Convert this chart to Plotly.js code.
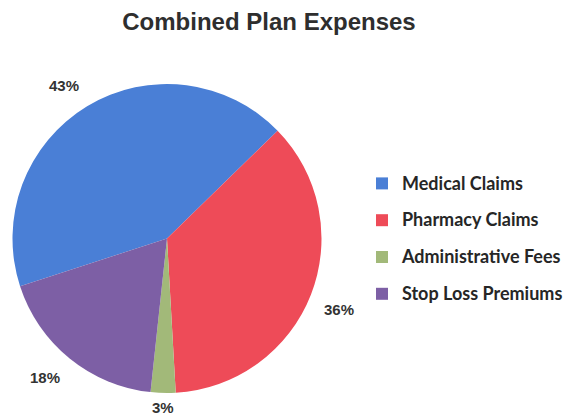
<!DOCTYPE html>
<html>
<head>
<meta charset="utf-8">
<script src="https://cdn.plot.ly/plotly-3.0.1.min.js"></script>
<style>html,body{margin:0;padding:0;background:#fff;}#chart{width:568px;height:417px;}</style>
</head>
<body>
<div id="chart"></div>
<script>
// Data
const labels = ['Medical Claims', 'Pharmacy Claims', 'Administrative Fees', 'Stop Loss Premiums'];
const values = [42.7, 36.4, 2.6, 18.3];
const titleText = 'Combined Plan Expenses';

// Styles
const colors = ['#4a7fd6', '#ee4b58', '#a2b979', '#7d5fa5'];
const W = 568, H = 417;
const rotation = 252;
const pieCx = 167, pieCy = 238.5, pieR = 154.5;
const labelDist = 166;
const labelBoxH = 19;

const total = values.reduce((a, b) => a + b, 0);
let cum = 0;
const annotations = values.map((v) => {
  const mid = (rotation + (cum + v / 2) / total * 360) * Math.PI / 180;
  cum += v;
  const s = Math.sin(mid), c = Math.cos(mid);
  let px = pieCx + s * labelDist;
  let py = pieCy - c * labelDist;
  const xanchor = Math.abs(s) < 0.2 ? 'center' : (s > 0 ? 'left' : 'right');
  const yanchor = Math.abs(c) < 0.2 ? 'middle' : (c > 0 ? 'bottom' : 'top');
  if (yanchor === 'top' && py + labelBoxH > H - 1) py = H - 1 - labelBoxH;
  return {
    xref: 'paper', yref: 'paper',
    x: px / W,
    y: 1 - py / H,
    xanchor: xanchor, yanchor: yanchor,
    text: Math.round(v / total * 100) + '%',
    showarrow: false,
    font: {family: 'Liberation Sans, Arial, sans-serif', size: 15, color: '#333333', weight: 'bold'}
  };
});

const trace = {
  type: 'pie',
  labels: labels.map(l => '<span style="font-size:18px;baseline-shift:4px">' + l + '</span>'),
  values: values,
  sort: false,
  direction: 'clockwise',
  rotation: rotation,
  marker: {colors: colors, line: {width: 0}},
  textinfo: 'none',
  hoverinfo: 'label+percent',
  domain: {
    x: [(pieCx - pieR) / W, (pieCx + pieR) / W],
    y: [1 - (pieCy + pieR) / H, 1 - (pieCy - pieR) / H]
  }
};

const layout = {
  width: W, height: H,
  margin: {l: 0, r: 0, t: 0, b: 0},
  paper_bgcolor: '#ffffff',
  plot_bgcolor: '#ffffff',
  title: {
    text: '<b>' + titleText + '</b>',
    font: {family: 'Liberation Sans, Arial, sans-serif', size: 24, color: '#2e2e2e'},
    x: 269 / W, xanchor: 'center',
    y: 1 - 22 / H, yanchor: 'middle',
    xref: 'paper', yref: 'container'
  },
  showlegend: true,
  legend: {
    x: 362 / W, xanchor: 'left',
    y: 1 - 160 / H, yanchor: 'top',
    font: {family: 'Lato, Calibri, sans-serif', size: 26, color: '#262626', weight: 'bold'},
    bgcolor: 'rgba(0,0,0,0)',
    itemclick: false
  },
  annotations: annotations
};

Plotly.newPlot('chart', [trace], layout, {displayModeBar: false, staticPlot: true});
</script>
</body>
</html>
